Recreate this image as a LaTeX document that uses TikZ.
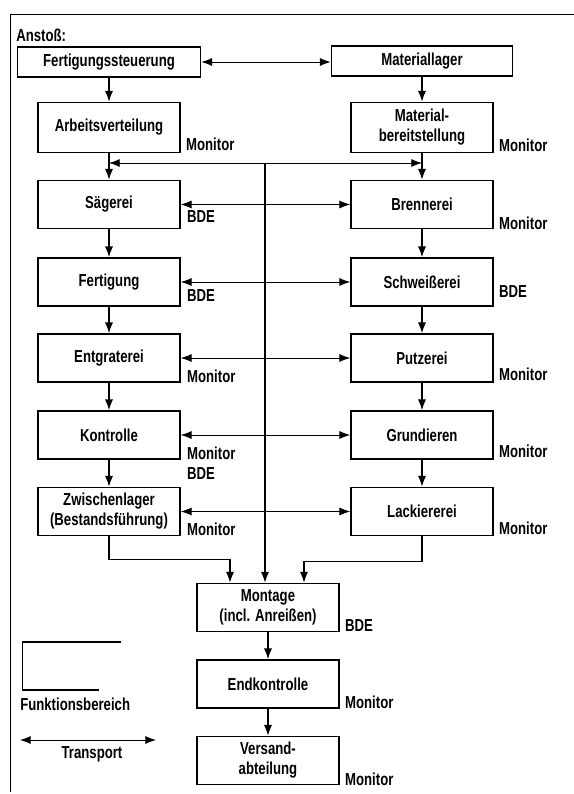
\documentclass[tikz,border=0pt]{standalone}
\usepackage{fontspec}
\setmainfont[FakeStretch=0.76]{Liberation Sans}
\usetikzlibrary{arrows.meta,calc}

\begin{document}
\begin{tikzpicture}[x=0.75pt,y=-0.75pt,
    box/.style={draw,line width=1.3pt,minimum width=\boxwidth*0.75pt,minimum height=\boxheight*0.75pt,align=center,inner sep=1pt,font=\boxfont},
    tag/.style={anchor=base west,inner sep=0pt,font=\boxfont},
    flow/.style={line width=0.8pt,-{Latex[length=8pt,width=6pt]}},
    transport/.style={line width=0.6pt,{Latex[length=8pt,width=6pt]}-{Latex[length=8pt,width=6pt]}}]
    \pgfmathsetmacro{\boxwidth}{142}
    \pgfmathsetmacro{\boxheight}{48}
    \pgfmathsetmacro{\leftx}{109}
    \pgfmathsetmacro{\rightx}{422}
    \pgfmathsetmacro{\midx}{268}
    \providecommand{\boxfont}{\fontsize{13}{15}\selectfont\bfseries}
    \useasboundingbox (0,0) rectangle (574,794);
    % frame
    \draw[line width=0.6pt] (10,792) -- (10,14) -- (574,14);
    \node[tag,anchor=west] (anstoss) at (16,35) {Ansto{\ss}:};
    % top row
    \node[box,minimum width=183*0.75pt,minimum height=30*0.75pt] (fst) at (\leftx,62) {Fertigungssteuerung};
    \node[box,minimum width=181*0.75pt,minimum height=30*0.75pt] (mlager) at (\rightx,61) {Materiallager};
    % left column
    \node[box,minimum height=50*0.75pt] (arb) at (\leftx,127.5) {Arbeitsverteilung};
    \node[box] (saeg) at (\leftx,204.5) {Sägerei};
    \node[box] (fert) at (\leftx,282) {Fertigung};
    \node[box] (entg) at (\leftx,358) {Entgraterei};
    \node[box] (kontr) at (\leftx,435) {Kontrolle};
    \node[box] (zwl) at (\leftx,511.5) {Zwischenlager\\(Bestandsführung)};
    % right column
    \node[box,minimum height=50*0.75pt] (bereit) at (\rightx,127.5) {Material-\\bereitstellung};
    \node[box] (brenn) at (\rightx,204.5) {Brennerei};
    \node[box] (schw) at (\rightx,282) {Schweißerei};
    \node[box] (putz) at (\rightx,358) {Putzerei};
    \node[box] (grund) at (\rightx,435) {Grundieren};
    \node[box] (lack) at (\rightx,511.5) {Lackiererei};
    % middle column
    \node[box] (mont) at (\midx,607.5) {Montage\\(incl. Anreißen)};
    \node[box] (endk) at (\midx,684) {Endkontrolle};
    \node[box] (vers) at (\midx,760.5) {Versand-\\abteilung};
    % tags
    \node[tag] (t1) at ($(arb.south east)+(5,-3)$) {Monitor};
    \node[tag] (t2) at ($(saeg.south east)+(6,-7)$) {BDE};
    \node[tag] (t3) at ($(fert.south east)+(6,-5)$) {BDE};
    \node[tag] (t4) at ($(entg.south east)+(6,0)$) {Monitor};
    \node[tag] (t5) at ($(kontr.south east)+(6,0)$) {Monitor};
    \node[tag] (t6) at ($(kontr.south east)+(6,20)$) {BDE};
    \node[tag] (t7) at ($(zwl.south east)+(6,-1)$) {Monitor};
    \node[tag] (t8) at ($(bereit.south east)+(5,-2)$) {Monitor};
    \node[tag] (t9) at ($(brenn.south east)+(5,0)$) {Monitor};
    \node[tag] (t10) at ($(schw.south east)+(5,-9)$) {BDE};
    \node[tag] (t11) at ($(putz.south east)+(5,-2)$) {Monitor};
    \node[tag] (t12) at ($(grund.south east)+(5,-2)$) {Monitor};
    \node[tag] (t13) at ($(lack.south east)+(5,-2)$) {Monitor};
    \node[tag] (t14) at ($(mont.south east)+(5,-1)$) {BDE};
    \node[tag] (t15) at ($(endk.south east)+(5,0)$) {Monitor};
    \node[tag] (t16) at ($(vers.south east)+(5,0)$) {Monitor};
    % flow
    \draw[flow] (fst) -- (arb);
    \draw[flow] (arb) -- (saeg);
    \draw[flow] (saeg) -- (fert);
    \draw[flow] (fert) -- (entg);
    \draw[flow] (entg) -- (kontr);
    \draw[flow] (kontr) -- (zwl);
    \draw[flow] (mlager) -- (bereit);
    \draw[flow] (bereit) -- (brenn);
    \draw[flow] (brenn) -- (schw);
    \draw[flow] (schw) -- (putz);
    \draw[flow] (putz) -- (grund);
    \draw[flow] (grund) -- (lack);
    \draw[flow] (zwl.south) -- ++(0,23) -| ($(mont.north)+(-38,0)$);
    \draw[flow] (lack.south) -- ++(0,25) -| ($(mont.north)+(36,0)$);
    \draw[flow] (mont) -- (endk);
    \draw[flow] (endk) -- (vers);
    % transport
    \coordinate (hub) at (265,163);
    \draw[transport] (fst.east) -- (fst.east -| mlager.west);
    \draw[transport] (arb.south |- hub) -- (bereit.south |- hub);
    \draw[flow] (hub) -- (hub |- mont.north);
    \draw[transport] (saeg) -- (brenn);
    \draw[transport] (fert) -- (schw);
    \draw[transport] (entg) -- (putz);
    \draw[transport] (kontr) -- (grund);
    \draw[transport] (zwl) -- (lack);
    % legend
    \draw[line width=1.3pt] (121,642) -- (22.5,642) -- (22.5,690) -- (99,690);
    \node[tag,anchor=west] (fb) at (20,704) {Funktionsbereich};
    \coordinate (tra) at (20,740);
    \coordinate (trb) at (156,740);
    \draw[transport] (tra) -- (trb);
    \node[font=\boxfont,inner sep=0pt] (tr) at (92,754) {Transport};
\end{tikzpicture}
\end{document}
